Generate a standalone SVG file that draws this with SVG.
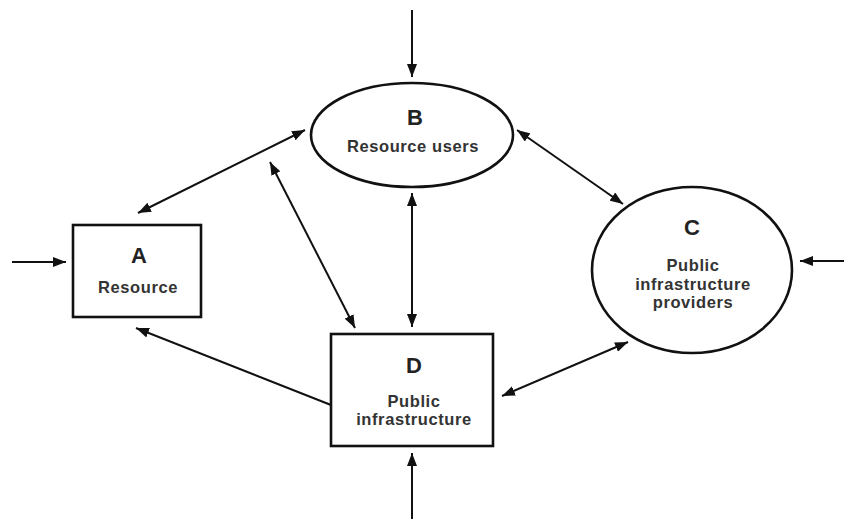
<svg xmlns="http://www.w3.org/2000/svg" width="844" height="519" viewBox="0 0 844 519">
<defs>
<marker id="ah" viewBox="0 0 13 10" refX="13" refY="5" markerWidth="13" markerHeight="10" markerUnits="userSpaceOnUse" orient="auto-start-reverse">
<path d="M0,0 L13,5 L0,10 Z" fill="#111"/>
</marker>
<style>
.shape{fill:#fff;stroke:#111;stroke-width:2.6}
.c{stroke:#111;stroke-width:2;fill:none}
.big{font-family:"Liberation Sans",Arial,sans-serif;font-weight:bold;font-size:22px;fill:#222;text-anchor:middle}
.lab{font-family:"Liberation Sans",Arial,sans-serif;font-weight:bold;font-size:16.5px;letter-spacing:0.6px;fill:#333;text-anchor:middle}
</style>
</defs>
<rect width="844" height="519" fill="#fff"/>
<g id="connectors">
<line class="c" x1="12" y1="262" x2="66" y2="262" marker-end="url(#ah)"/>
<line class="c" x1="412" y1="10" x2="412" y2="77" marker-end="url(#ah)"/>
<line class="c" x1="844" y1="261" x2="800" y2="261" marker-end="url(#ah)"/>
<line class="c" x1="412" y1="519" x2="412" y2="453" marker-end="url(#ah)"/>
<line class="c" x1="331" y1="405" x2="136" y2="328" marker-end="url(#ah)"/>
<line class="c" x1="138" y1="213" x2="305" y2="130" marker-start="url(#ah)" marker-end="url(#ah)"/>
<line class="c" x1="270" y1="162" x2="355" y2="328" marker-start="url(#ah)" marker-end="url(#ah)"/>
<line class="c" x1="412" y1="193" x2="412" y2="327" marker-start="url(#ah)" marker-end="url(#ah)"/>
<line class="c" x1="517" y1="130" x2="623" y2="204" marker-start="url(#ah)" marker-end="url(#ah)"/>
<line class="c" x1="502" y1="396" x2="628" y2="342" marker-start="url(#ah)" marker-end="url(#ah)"/>
</g>
<g id="nodeA">
<rect class="shape" x="73" y="225" width="128" height="92"/>
<text class="big" x="139" y="263">A</text>
<text class="lab" x="138" y="293">Resource</text>
</g>
<g id="nodeB">
<ellipse class="shape" cx="412" cy="135" rx="101" ry="52"/>
<text class="big" x="415" y="125">B</text>
<text class="lab" x="413" y="152">Resource users</text>
</g>
<g id="nodeC">
<ellipse class="shape" cx="692" cy="270" rx="100" ry="83"/>
<text class="big" x="692" y="235">C</text>
<text class="lab" x="693" y="271">Public</text>
<text class="lab" x="693" y="290">infrastructure</text>
<text class="lab" x="693" y="308">providers</text>
</g>
<g id="nodeD">
<rect class="shape" x="331" y="334" width="162" height="112"/>
<text class="big" x="414" y="373">D</text>
<text class="lab" x="414" y="407">Public</text>
<text class="lab" x="414" y="425">infrastructure</text>
</g>
</svg>
